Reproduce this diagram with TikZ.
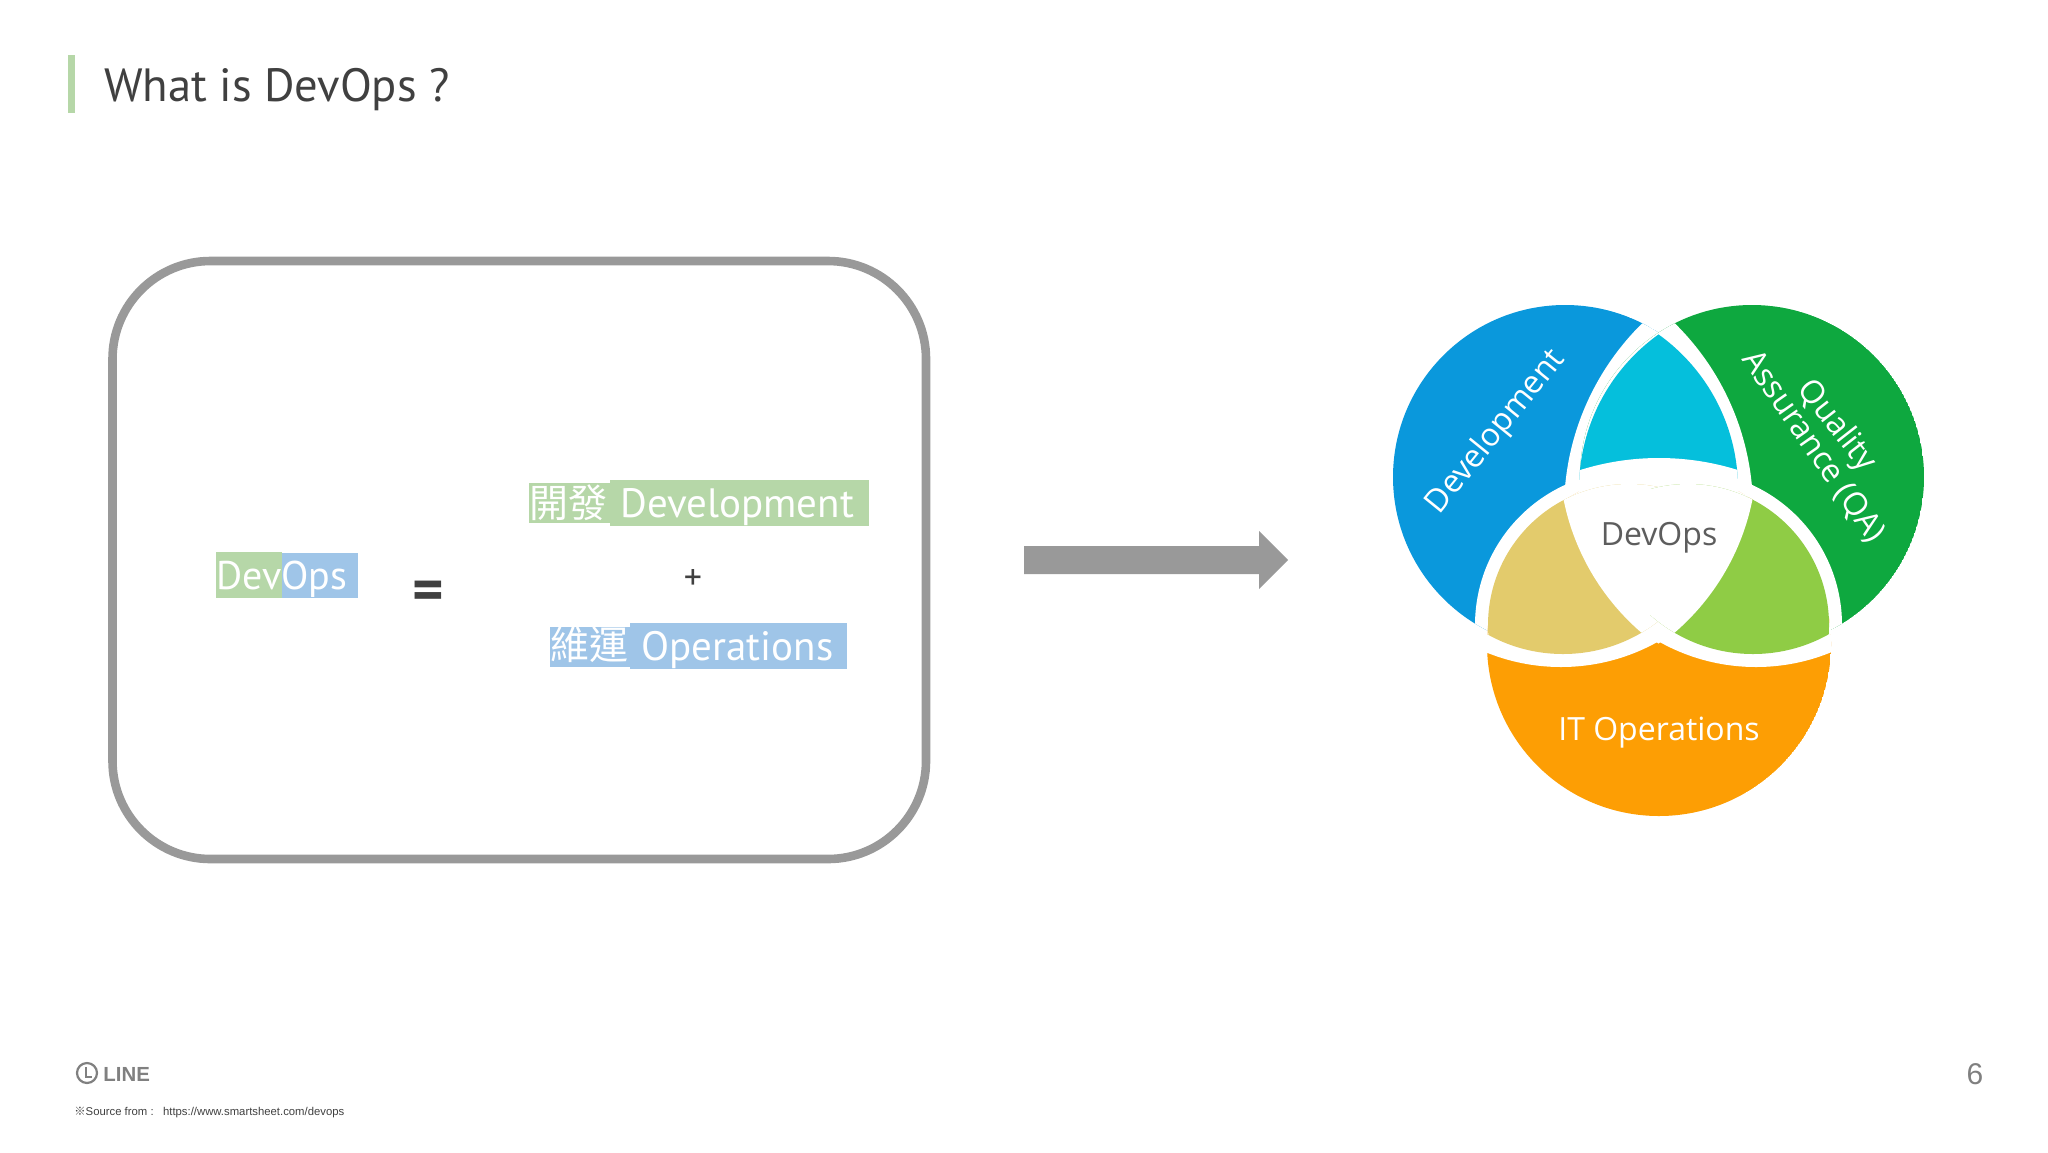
\documentclass[tikz,border=0pt]{standalone}
\usepackage{fontspec}
\setmainfont{PT Sans}
\newfontfamily\cjk{Noto Sans CJK TC}
\newfontfamily\vennfont{Open Sans}
\newfontfamily\arialfont{Liberation Sans}
\newcommand{\fsz}[1]{\fontsize{#1pt}{#1pt}\selectfont}
\definecolor{hlgreen}{HTML}{B6D7A8}
\definecolor{hlblue}{HTML}{9FC5E8}
\definecolor{ink}{HTML}{404040}
\definecolor{framegray}{HTML}{999999}
\definecolor{vblue}{HTML}{0A98DC}
\definecolor{vgreen}{HTML}{0EA83F}
\definecolor{vorange}{HTML}{FD9E04}
\definecolor{vcyan}{HTML}{05BFDC}
\definecolor{vyellow}{HTML}{E3CB6C}
\definecolor{vlime}{HTML}{8FCC45}
\tikzset{
  hltext/.style={anchor=base west,text=white,inner sep=0pt,font=\fsz{20.5}},
  hlcjk/.style={anchor=base west,text=white,inner sep=0pt,font=\cjk\fsz{19.5}},
  vlabel/.style={text=white,inner sep=0pt,font=\vennfont\fsz{16}},
}
\begin{document}
\begin{tikzpicture}[x=0.5pt,y=-0.5pt]
\useasboundingbox (0,0) rectangle (2048,1152);
\fill[white] (0,0) rectangle (2048,1152);
% title
\fill[hlgreen] (68,55) rectangle (75,113);
\node[anchor=base west,inner sep=0pt,text=ink,font=\fsz{23.3}] (title) at (104,101) {What is DevOps ?};
% frame
\draw[framegray,line width=4.3pt,rounded corners=49pt] (112.5,261) rectangle (926,859);
% highlights
\fill[hlgreen] (216,552) rectangle (281.5,598);
\fill[hlblue] (281.5,553) rectangle (358,598);
\fill[hlgreen] (529,483) rectangle (610,523);
\fill[hlgreen] (609.5,480) rectangle (869,526);
\fill[hlblue] (550,627) rectangle (630.5,667);
\fill[hlblue] (630,623) rectangle (847,669);
% texts
\node[hltext,font=\fsz{20}] (devops) at (216,589) {DevOps};
\node[anchor=center,inner sep=0pt,text=ink,font=\bfseries\fsz{30}] (equals) at (428,596) {=};
\node[hlcjk] (kaifa) at (529,517) {開發};
\node[hltext] (dev) at (620,517) {Development};
\node[anchor=center,inner sep=0pt,text=ink,font=\fsz{18}] (plus) at (693,579) {+};
\node[hlcjk] (weiyun) at (550,659) {維運};
\node[hltext] (ops) at (641,660) {Operations};
% arrow
\fill[framegray] (1024,546) -- (1259,546) -- (1259,531) -- (1288,560) -- (1259,589) -- (1259,574) -- (1024,574) -- cycle;
% venn diagram: each region is a disc clipped and cut by white discs
\begin{scope}
  \clip (1565,477) circle[radius=172];
  \fill[vblue] (1565,477) circle[radius=172];
  \fill[white] (1826,510) circle[radius=262];
  \fill[white] (1629,625) circle[radius=154];
\end{scope}
\begin{scope}
  \clip (1752,477) circle[radius=172];
  \fill[vgreen] (1752,477) circle[radius=172];
  \fill[white] (1491,510) circle[radius=262];
  \fill[white] (1688,625) circle[radius=154];
\end{scope}
\begin{scope}
  \clip (1659,644) circle[radius=172];
  \fill[vorange] (1659,644) circle[radius=172];
  \fill[white] (1561,469) circle[radius=198];
  \fill[white] (1756,469) circle[radius=198];
\end{scope}
\begin{scope}
  \clip (1769,489) circle[radius=190];
  \clip (1548,489) circle[radius=190];
  \fill[vcyan] (1500,300) rectangle (1820,480);
  \fill[white] (1659,721) circle[radius=263];
\end{scope}
\begin{scope}
  \clip (1629,625) circle[radius=141];
  \clip (1563,499) circle[radius=155];
  \fill[vyellow] (1450,480) rectangle (1670,680);
  \fill[white] (1796,453) circle[radius=237];
\end{scope}
\begin{scope}
  \clip (1688,625) circle[radius=141];
  \clip (1753,499) circle[radius=155];
  \fill[vlime] (1650,480) rectangle (1870,680);
  \fill[white] (1520,453) circle[radius=237];
\end{scope}
\node[vlabel,rotate=51] (ldev) at (1496,432) {Development};
\node[vlabel,rotate=-52] (lqual) at (1836,426) {Quality};
\node[vlabel,rotate=-55] (lassur) at (1813,447) {Assurance (QA)};
\node[vlabel,text=ink!85] (lcenter) at (1659,538) {DevOps};
\node[vlabel] (lit) at (1659,733) {IT Operations};
% footer
\draw[gray,line width=1.1pt] (87,1073) circle[radius=10];
\draw[gray,line width=0.9pt] (86,1067) -- (86,1077) -- (92,1077);
\node[anchor=base west,inner sep=0pt,text=gray,font=\arialfont\bfseries\fsz{10.2}] (line) at (103,1081) {LINE};
\node[anchor=base west,inner sep=0pt,text=ink,font=\arialfont\fsz{5.66}] (source) at (74,1115) {{\cjk ※}Source from :\ \ \ https://www.smartsheet.com/devops};
\node[anchor=center,inner sep=0pt,text=gray,font=\arialfont\fsz{15}] (page) at (1975,1074) {6};
\end{tikzpicture}
\end{document}
